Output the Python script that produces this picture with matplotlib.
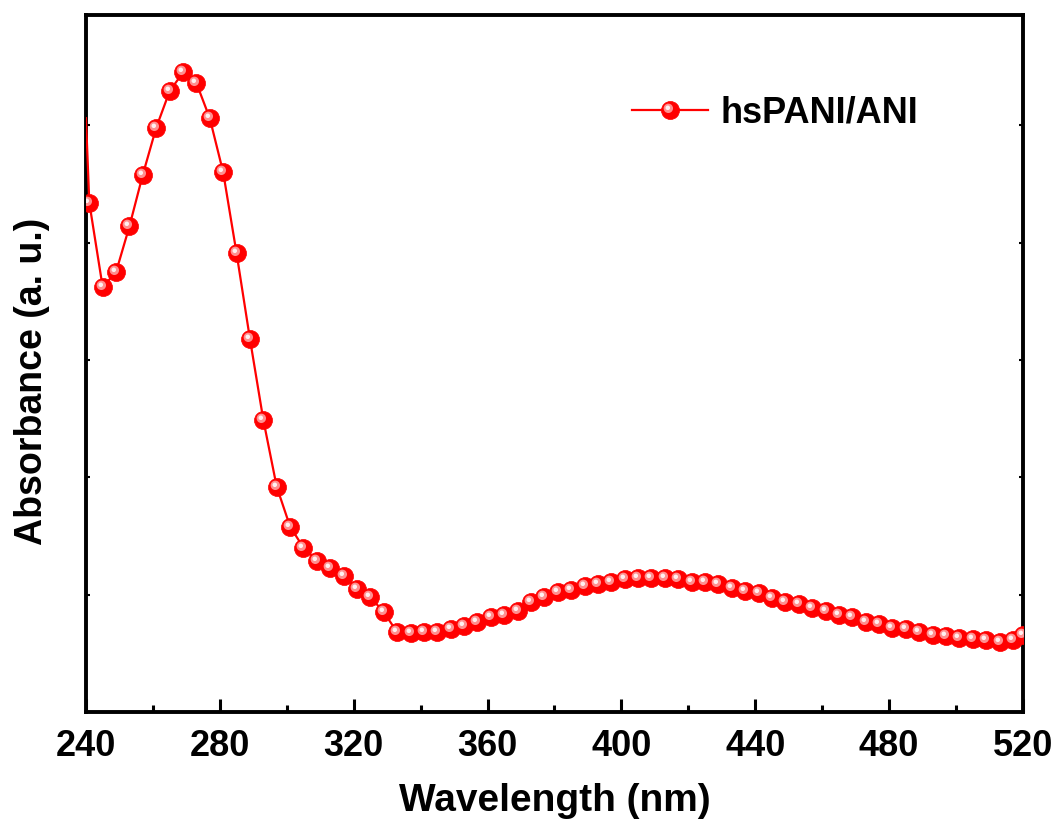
import matplotlib
matplotlib.use("Agg")
import matplotlib.pyplot as plt
from matplotlib.markers import MarkerStyle
from matplotlib.transforms import Affine2D
from matplotlib.legend_handler import HandlerTuple
from matplotlib.ticker import MultipleLocator

plt.rcParams['font.family'] = ['Liberation Sans', 'DejaVu Sans']
plt.rcParams['font.weight'] = 'bold'
plt.rcParams['xtick.direction'] = 'in'
plt.rcParams['ytick.direction'] = 'in'

# UV-vis spectrum of hsPANI/ANI
wavelength = [240, 241, 245, 249, 253, 257, 261, 265, 269, 273, 277, 281, 285, 289,
              293, 297, 301, 305, 309, 313, 317, 321, 325, 329, 333, 337, 341, 345,
              349, 353, 357, 361, 365, 369, 373, 377, 381, 385, 389, 393, 397, 401,
              405, 409, 413, 417, 421, 425, 429, 433, 437, 441, 445, 449, 453, 457,
              461, 465, 469, 473, 477, 481, 485, 489, 493, 497, 501, 505, 509, 513,
              517, 520]
absorbance = [5.06, 4.34, 3.62, 3.75, 4.14, 4.58, 4.98, 5.29, 5.45, 5.36, 5.06, 4.60,
              3.91, 3.18, 2.49, 1.92, 1.58, 1.40, 1.29, 1.23, 1.16, 1.05, 0.98, 0.85,
              0.68, 0.67, 0.68, 0.68, 0.71, 0.73, 0.77, 0.81, 0.83, 0.86, 0.94, 0.98,
              1.02, 1.04, 1.07, 1.09, 1.11, 1.13, 1.14, 1.14, 1.14, 1.13, 1.11, 1.11,
              1.09, 1.06, 1.03, 1.01, 0.97, 0.94, 0.92, 0.89, 0.86, 0.83, 0.81, 0.77,
              0.75, 0.72, 0.71, 0.68, 0.66, 0.65, 0.63, 0.62, 0.61, 0.60, 0.61, 0.66]
series_name = "hsPANI/ANI"

fig = plt.figure(figsize=(10.56, 8.31), dpi=100)
ax = fig.add_axes([0.0814, 0.1432, 0.8873, 0.8388])

msize = 13
every = slice(1, None)
# sphere look: red ball + pink glint + white spot
glint = MarkerStyle('o', transform=Affine2D().scale(0.52).translate(-0.12, 0.12))
spot = MarkerStyle('o', transform=Affine2D().scale(0.25).translate(-0.15, 0.15))

h1, = ax.plot(wavelength, absorbance, color='red', lw=1.6, marker='o', ms=msize,
              markevery=every, mfc='red', mec='red', mew=0.5, zorder=3)
h2, = ax.plot(wavelength, absorbance, ls='none', marker=glint, ms=msize,
              markevery=every, mfc='#ff8f8f', mec='none', zorder=4)
h3, = ax.plot(wavelength, absorbance, ls='none', marker=spot, ms=msize,
              markevery=every, mfc='#fff0f0', mec='none', zorder=5)

ax.set_xlim(240, 520)
ax.set_ylim(0, 5.94)
ax.xaxis.set_major_locator(MultipleLocator(40))
ax.xaxis.set_minor_locator(MultipleLocator(20))
ax.yaxis.set_major_locator(MultipleLocator(1))
ax.set_yticklabels([])

for s in ax.spines.values():
    s.set_linewidth(2.8)

ax.tick_params(axis='x', which='major', direction='in', length=9.5, width=2.2,
               labelsize=26, pad=12, top=False)
ax.tick_params(axis='x', which='minor', direction='in', length=5, width=2.2, top=False)
ax.tick_params(axis='y', which='major', direction='in', length=3, width=1.5,
               left=True, right=True, labelleft=False)
for lab in ax.get_xticklabels():
    lab.set_fontweight('bold')

ax.set_xlabel("Wavelength (nm)", fontsize=28, fontweight='bold')
ax.set_ylabel("Absorbance (a. u.)", fontsize=27, fontweight='bold')
ax.xaxis.set_label_coords(0.5, -0.102)
ax.yaxis.set_label_coords(-0.038, 0.475)

leg = ax.legend([(h1, h2, h3)], [series_name],
                handler_map={tuple: HandlerTuple(ndivide=1, pad=0)},
                loc='center left', bbox_to_anchor=(0.583, 0.859), frameon=False,
                borderaxespad=0, borderpad=0, fontsize=26, handlelength=2.1,
                handletextpad=0.35, numpoints=1)
for t in leg.get_texts():
    t.set_fontweight('bold')

fig.savefig("out.png", dpi=100)
